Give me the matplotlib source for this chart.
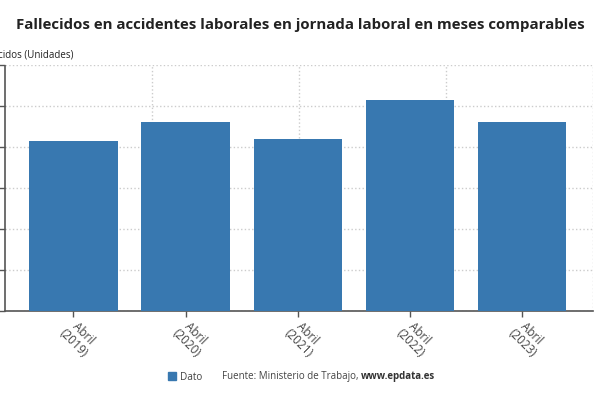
import numpy as np
import matplotlib
matplotlib.use('Agg')
import matplotlib.pyplot as plt
import matplotlib.transforms as mtransforms
from matplotlib.patches import Rectangle

# Fallecidos en jornada laboral, meses comparables (abril)
categories = ['Abril\n(2019)', 'Abril\n(2020)', 'Abril\n(2021)', 'Abril\n(2022)', 'Abril\n(2023)']
fallecidos = [83, 92, 84, 103, 92]
y_ticks = [0, 20, 40, 60, 80, 100, 120]

bar_color = '#3878b0'
plt.rcParams['font.family'] = ['Open Sans', 'DejaVu Sans']

fig = plt.figure(figsize=(6, 4), dpi=100)
ax = fig.add_axes([0.009, 0.2225, 0.979, 0.615])

x = np.arange(len(categories))
ax.bar(x, fallecidos, width=0.79, color=bar_color, zorder=3)

ax.set_ylim(0, 120)
ax.set_yticks(y_ticks)
ax.set_yticklabels([])
ax.set_xlim(-0.607, 4.63)
ax.set_xticks(x)
ax.set_xticklabels([])

# rotated category labels, nudged a little right of the tick like the original
shift = mtransforms.ScaledTranslation(5 / 100, -6 / 100, fig.dpi_scale_trans)
lbl_trans = ax.get_xaxis_transform() + shift
for xi, cat in zip(x, categories):
    ax.text(xi, 0, cat, transform=lbl_trans, rotation=-45, ha='center', va='top',
            fontsize=8.5, color='#444444', linespacing=1.0)

# grid: horizontal on the y ticks, vertical split in 4 equal parts
ax.yaxis.grid(True, color='#cccccc', linestyle=':', linewidth=1, zorder=0)
xl = ax.get_xlim()
for gx in np.linspace(xl[0], xl[1], 5)[1:]:
    ax.axvline(gx, color='#cccccc', linestyle=':', linewidth=1, zorder=0)

for s in ['top', 'right']:
    ax.spines[s].set_visible(False)
for s in ['left', 'bottom']:
    ax.spines[s].set_color('#555555')
    ax.spines[s].set_linestyle((0, (1, 1)))
    ax.spines[s].set_linewidth(1.2)
ax.tick_params(axis='y', length=4, color='#555555', width=1)
ax.tick_params(axis='x', length=4, color='#555555', width=1, pad=2)

fig.text(0.5, 0.938, 'Fallecidos en accidentes laborales en jornada laboral en meses comparables',
         ha='center', va='center', fontsize=10.8, fontweight='bold', fontstretch='normal',
         color='#222222')
fig.text(0.123, 0.862, 'Fallecidos (Unidades)', ha='right', va='center',
         fontsize=7.0, color='#222222')

# legend and source
fig.patches.append(Rectangle((168 / 600, 1 - 380 / 400), 8 / 600, 8 / 400,
                             transform=fig.transFigure, color=bar_color))
fig.text(180 / 600, 1 - 377 / 400, 'Dato', ha='left', va='center', fontsize=7.2, color='#444444')
t = fig.text(222 / 600, 1 - 376 / 400, 'Fuente: Ministerio de Trabajo, ', ha='left', va='center',
             fontsize=7.0, color='#444444')
fig.canvas.draw()
bb = t.get_window_extent()
fig.text(bb.x1 / fig.bbox.width, 1 - 376 / 400, 'www.epdata.es', ha='left', va='center',
         fontsize=7.0, fontweight='bold', color='#333333')

fig.savefig('out.png', dpi=100)
